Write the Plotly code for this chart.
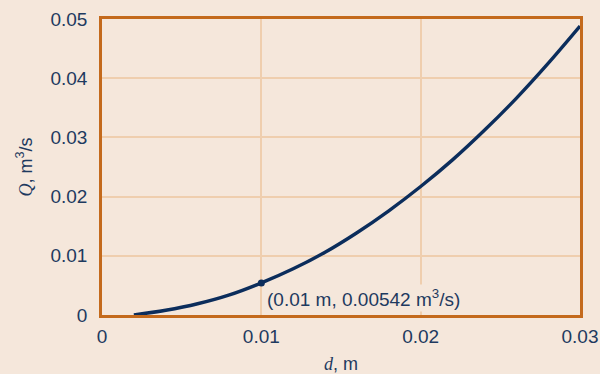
import plotly.graph_objects as go

d_m = [0.002, 0.004, 0.006, 0.008, 0.010, 0.012, 0.014, 0.016, 0.018, 0.020,
       0.022, 0.024, 0.026, 0.028, 0.030]
Q_m3s = [0.0000, 0.0008, 0.0019, 0.0034, 0.00542, 0.0078, 0.0106, 0.0139, 0.0176,
         0.0217, 0.0262, 0.0312, 0.0366, 0.0425, 0.0488]
point_d = [0.01]
point_Q = [0.00542]
x_ticks = [0, 0.01, 0.02, 0.03]
y_ticks = [0, 0.01, 0.02, 0.03, 0.04, 0.05]

bg = "#f5e7db"
txt = "#1e3a5f"
navy = "#0b2d5c"
orange = "#c46a1c"
grid = "#efceae"

fig = go.Figure()
fig.add_trace(go.Scatter(x=d_m, y=Q_m3s, mode="lines",
                         line=dict(color=navy, width=3.4, shape="spline"),
                         hoverinfo="skip", showlegend=False))
fig.add_trace(go.Scatter(x=point_d, y=point_Q, mode="markers",
                         marker=dict(color=navy, size=7),
                         showlegend=False))
fig.add_annotation(x=point_d[0], y=point_Q[0],
                   text="(0.01 m, 0.00542 m<sup>3</sup>/s)",
                   xref="x", yref="y", showarrow=False,
                   xanchor="left", yanchor="top", xshift=4, yshift=-1,
                   bgcolor=bg, font=dict(size=19, color=txt))

serif = "'Liberation Serif', 'DejaVu Serif', serif"
fig.update_layout(
    width=600, height=374,
    paper_bgcolor=bg, plot_bgcolor=bg,
    margin=dict(l=102, r=20, t=19, b=59),
    font=dict(family="'Liberation Sans', Arial, sans-serif", size=19, color=txt),
    xaxis=dict(range=[0, 0.03], tickvals=x_ticks, ticktext=["0", "0.01", "0.02", "0.03"],
               showgrid=True, gridcolor=grid, gridwidth=1.5, zeroline=False,
               showline=True, linecolor=orange, linewidth=2.5, mirror=True,
               ticks="", ticklabelstandoff=2, automargin=False,
               title=dict(text=f"<span style=\"font-family:{serif}\"><i>d</i></span>, m",
                          font=dict(size=18), standoff=12)),
    yaxis=dict(range=[0, 0.05], tickvals=y_ticks,
               ticktext=["0", "0.01", "0.02", "0.03", "0.04", "0.05"],
               showgrid=True, gridcolor=grid, gridwidth=1.5, zeroline=False,
               showline=True, linecolor=orange, linewidth=2.5, mirror=True,
               ticks="", ticklabelstandoff=8, automargin=False,
               title=dict(text=f"<span style=\"font-family:{serif}\"><i>Q</i></span>, m<sup>3</sup>/s",
                          font=dict(size=18), standoff=14)),
)
fig.write_html("out.html", config={"displayModeBar": False},
               post_script="document.body.style.margin='0';document.body.style.overflow='hidden';")
